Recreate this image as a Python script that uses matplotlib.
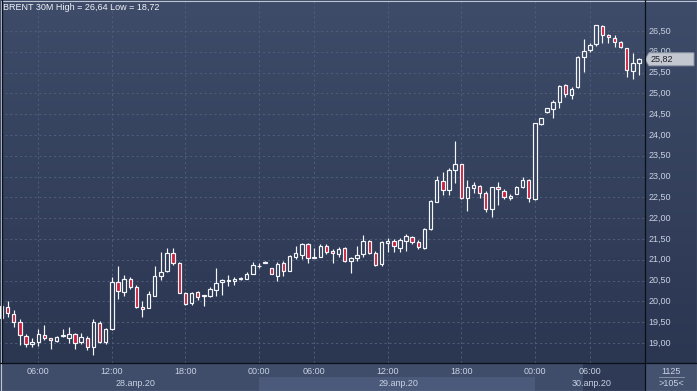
import numpy as np
import matplotlib
matplotlib.use('Agg')
import matplotlib.pyplot as plt
from matplotlib.patches import Rectangle, Polygon
from matplotlib.lines import Line2D
from matplotlib.colors import LinearSegmentedColormap, to_rgb

plt.rcParams['font.family'] = ['Liberation Sans', 'DejaVu Sans']

# ---------------- data ----------------
opens = [19.60, 19.87, 19.70, 19.50, 19.18, 18.97, 19.02, 19.20, 19.11, 19.06,
         19.17, 19.13, 19.21, 19.03, 19.11, 18.90, 19.47, 19.03, 19.34, 20.47,
         20.23, 20.53, 20.34, 19.86, 19.84, 20.13, 20.62, 20.72, 21.16, 20.92,
         20.21, 19.95, 20.22, 20.12, 20.13, 20.28, 20.46, 20.50, 20.50, 20.54,
         20.54, 20.66, 20.84, 20.93, 20.80, 20.61, 20.93, 20.73, 21.07, 21.12,
         21.38, 21.04, 21.07, 21.33, 21.21, 21.13, 21.28, 20.96, 21.04, 21.13,
         21.44, 21.16, 20.89, 21.40, 21.44, 21.28, 21.44, 21.54, 21.42, 21.28,
         21.73, 22.40, 22.89, 22.68, 23.17, 23.30, 22.49, 22.72, 22.78, 22.60,
         22.21, 22.74, 22.66, 22.49, 22.58, 22.74, 22.93, 22.46, 24.26, 24.55,
         24.63, 24.79, 25.19, 24.95, 25.15, 25.87, 26.04, 26.18, 26.62, 26.40,
         26.34, 26.23, 26.08, 25.54, 25.72]
highs = [19.95, 20.00, 19.79, 19.57, 19.22, 19.11, 19.34, 19.43, 19.13, 19.17,
         19.34, 19.38, 19.25, 19.23, 19.17, 19.57, 19.54, 19.37, 20.58, 20.85,
         20.63, 20.59, 20.39, 20.00, 20.26, 20.85, 21.18, 21.28, 21.28, 20.94,
         20.23, 20.23, 20.26, 20.16, 20.35, 20.80, 20.53, 20.63, 20.59, 20.59,
         20.71, 20.95, 20.93, 20.98, 20.81, 20.95, 20.97, 21.11, 21.32, 21.41,
         21.40, 21.28, 21.38, 21.37, 21.27, 21.31, 21.30, 21.06, 21.32, 21.60,
         21.48, 21.20, 21.45, 21.53, 21.50, 21.52, 21.63, 21.57, 21.48, 21.76,
         22.44, 23.01, 23.12, 23.21, 23.86, 23.31, 22.93, 22.88, 22.80, 22.65,
         22.76, 22.88, 22.71, 22.58, 22.78, 22.99, 22.95, 24.30, 24.42, 24.66,
         24.84, 25.20, 25.23, 25.15, 25.89, 26.30, 26.22, 26.64, 26.64, 26.43,
         26.40, 26.27, 26.10, 25.96, 25.85]
lows = [19.55, 19.63, 19.39, 18.95, 18.90, 18.91, 18.93, 19.07, 18.85, 19.03,
        19.14, 19.01, 18.85, 18.98, 18.83, 18.72, 18.99, 18.98, 19.31, 20.06,
        20.14, 20.29, 19.83, 19.62, 19.83, 20.12, 20.51, 20.71, 20.88, 20.20,
        19.92, 19.92, 20.03, 19.89, 20.11, 20.14, 20.15, 20.37, 20.39, 20.52,
        20.53, 20.66, 20.80, 20.92, 20.65, 20.50, 20.61, 20.73, 21.01, 21.02,
        20.92, 21.04, 21.07, 21.14, 20.92, 21.07, 20.95, 20.68, 20.96, 21.07,
        21.15, 20.85, 20.85, 21.19, 21.19, 21.19, 21.20, 21.38, 21.25, 21.26,
        21.72, 22.40, 22.56, 22.55, 22.84, 22.45, 22.18, 22.60, 22.48, 22.15,
        22.04, 22.32, 22.47, 22.43, 22.57, 22.72, 22.40, 22.44, 24.24, 24.54,
        24.40, 24.64, 24.91, 24.87, 25.13, 25.51, 25.99, 26.15, 26.20, 26.20,
        26.12, 26.08, 25.40, 25.34, 25.44]
closes = [19.88, 19.72, 19.50, 19.20, 18.97, 19.02, 19.22, 19.11, 19.07, 19.15,
          19.19, 19.21, 19.01, 19.14, 18.90, 19.51, 19.03, 19.34, 20.46, 20.24,
          20.55, 20.35, 19.86, 19.81, 20.18, 20.62, 20.71, 21.16, 20.92, 20.21,
          19.94, 20.21, 20.10, 20.15, 20.29, 20.44, 20.51, 20.51, 20.54, 20.55,
          20.66, 20.87, 20.86, 20.94, 20.66, 20.89, 20.73, 21.09, 21.16, 21.38,
          21.04, 21.07, 21.33, 21.19, 21.16, 21.25, 20.96, 21.04, 21.12, 21.46,
          21.17, 20.87, 21.42, 21.45, 21.32, 21.48, 21.58, 21.42, 21.30, 21.74,
          22.41, 22.92, 22.68, 23.16, 23.30, 22.48, 22.74, 22.79, 22.60, 22.21,
          22.74, 22.69, 22.50, 22.54, 22.74, 22.93, 22.48, 24.28, 24.40, 24.64,
          24.79, 25.18, 24.99, 25.11, 25.87, 26.03, 26.16, 26.64, 26.40, 26.35,
          26.23, 26.11, 25.56, 25.74, 25.82]

title_text = 'BRENT 30M High = 26,64 Low = 18,72'
price_ticks = [19.0, 19.5, 20.0, 20.5, 21.0, 21.5, 22.0, 22.5, 23.0, 23.5,
               24.0, 24.5, 25.0, 25.5, 26.0, 26.5]
price_labels = ['19,00', '19,50', '20,00', '20,50', '21,00', '21,50', '22,00',
                '22,50', '23,00', '23,50', '24,00', '24,50', '25,00', '25,50',
                '26,00', '26,50']
time_tick_pos = [6, 18, 30, 42, 51, 63, 75, 87, 96]
time_tick_labels = ['06:00', '12:00', '18:00', '00:00', '06:00', '12:00',
                    '18:00', '00:00', '06:00']
day_starts = [42, 87]
date_labels = ['28.апр.20', '29.апр.20', '30.апр.20']
date_label_pos = [21.8, 64.7, 96.3]
last_price = 25.82
last_label = '25,82'
volume_text = '1125'
bars_text = '>105<'

# ---------------- layout ----------------
W, H = 697, 391
fig = plt.figure(figsize=(W / 100, H / 100), dpi=100)
fig.patch.set_facecolor('#3f4d6b')

PLOT_R = 645   # px
PLOT_B = 363   # px from top
px_per_bar = 6.13
x0_px = 1.5
y_at_19 = 343.0
px_per_unit = 41.6

xlim = (-x0_px / px_per_bar, (PLOT_R - x0_px) / px_per_bar)
ylim = (19 - (PLOT_B - y_at_19) / px_per_unit, 19 + y_at_19 / px_per_unit)

BG_TOP = '#3e4c69'
BG_BOT = '#2b3651'
GRID = '#4f5d7a'
TXT = '#c9d1e2'
RED = '#c91f3d'
WHITE = '#f4f6fa'
FS = 6.5

cmap = LinearSegmentedColormap.from_list('bg', [BG_BOT, BG_TOP])

def bg_at(price):
    t = (price - ylim[0]) / (ylim[1] - ylim[0])
    a, b = np.array(to_rgb(BG_BOT)), np.array(to_rgb(BG_TOP))
    return tuple(a + (b - a) * t)

ax = fig.add_axes([0, (H - PLOT_B) / H, PLOT_R / W, PLOT_B / H])
ax_r = fig.add_axes([PLOT_R / W, (H - PLOT_B) / H, (W - PLOT_R) / W, PLOT_B / H])
ax_t = fig.add_axes([0, 0, 1, (H - PLOT_B) / H])

for a in (ax, ax_r):
    a.imshow(np.linspace(0, 1, 256).reshape(-1, 1)[::-1], cmap=cmap,
             extent=[0, 1, 0, 1], transform=a.transAxes, aspect='auto',
             zorder=0, interpolation='bilinear')
    a.set_axis_off()

ax.set_xlim(*xlim)
ax.set_ylim(*ylim)
ax_r.set_xlim(0, 1)
ax_r.set_ylim(*ylim)

# grid
for p in price_ticks:
    ax.axhline(p, color=GRID, lw=0.7, ls=(0, (2.2, 2.8)), zorder=1)
for t in time_tick_pos:
    ax.axvline(t, color=GRID, lw=0.7, ls=(0, (2.2, 2.8)), zorder=1)

# candles
bw = 0.56
lw = 0.85
for i, (o, h, l, c) in enumerate(zip(opens, highs, lows, closes)):
    top = max(o, c)
    bot = min(o, c)
    hgt = max(top - bot, 0.022)
    up = c >= o
    ax.vlines(i, top, h, color=WHITE, lw=lw, zorder=3)
    ax.vlines(i, l, bot, color=WHITE, lw=lw, zorder=3)
    fc = bg_at((top + bot) / 2) if up else RED
    ax.add_patch(Rectangle((i - bw / 2, bot), bw, hgt, facecolor=fc,
                           edgecolor=WHITE, lw=lw, zorder=4))

# right axis labels
for p, lab in zip(price_ticks, price_labels):
    ax_r.text(3.5 / 52, p, lab, color=TXT, fontsize=FS, va='center', ha='left', zorder=3)

# last price tag
hh = 6.5 / px_per_unit
tag = Polygon([(0.0, last_price), (4 / 52, last_price + hh), (49 / 52, last_price + hh),
               (49 / 52, last_price - hh), (4 / 52, last_price - hh)], closed=True,
              facecolor='#c3c7cf', edgecolor='#8e96a6', lw=0.7, zorder=5)
ax_r.add_patch(tag)
ax_r.text(6 / 52, last_price, last_label, color='#1c1f26', fontsize=FS,
          va='center', ha='left', zorder=6)

# title
ax.text(3 / PLOT_R, 1 - 2.5 / PLOT_B, title_text, transform=ax.transAxes,
        color='#f2f4f8', fontsize=FS, va='top', ha='left', zorder=6)

# ---------------- time axis bar ----------------
ax_t.set_xlim(0, W)
ax_t.set_ylim(H, PLOT_B)
ax_t.set_axis_off()
ax_t.add_patch(Rectangle((0, PLOT_B), W, H - PLOT_B, facecolor='#3f4d6b', zorder=0))

def bar_px(i):
    return x0_px + px_per_bar * i

ax_t.add_patch(Rectangle((bar_px(day_starts[0]), 377), bar_px(day_starts[1]) - bar_px(day_starts[0]),
                         H - 377, facecolor='#4b5a7a', lw=0, zorder=1))
ax_t.add_patch(Rectangle((583, PLOT_B + 1), PLOT_R - 583, H - PLOT_B - 1,
                         facecolor='#2e3a56', lw=0, zorder=2))
ax_t.add_patch(Rectangle((PLOT_R, PLOT_B), W - PLOT_R, H - PLOT_B,
                         facecolor='#44526f', lw=0, zorder=2))

for t, lab in zip(time_tick_pos, time_tick_labels):
    ax_t.text(bar_px(t), 371, lab, color=TXT, fontsize=FS, ha='center', va='center', zorder=4)
for t, lab in zip(date_label_pos, date_labels):
    ax_t.text(bar_px(t), 383, lab, color=TXT, fontsize=FS, ha='center', va='center', zorder=4)

ax_t.text(671, 371, volume_text, color=TXT, fontsize=FS, ha='center', va='center', zorder=4)
ax_t.plot([659, 684], [377, 377], color='#8f99ad', lw=0.6, zorder=4)
ax_t.text(671, 383, bars_text, color=TXT, fontsize=FS, ha='center', va='center', zorder=4)

# separator lines
fig.add_artist(Line2D([PLOT_R / W, PLOT_R / W], [0, 1], transform=fig.transFigure,
                      color='#0b0f18', lw=0.9))
fig.add_artist(Line2D([0, 1], [(H - PLOT_B) / H] * 2, transform=fig.transFigure,
                      color='#0b0f18', lw=0.9))
fig.add_artist(Line2D([1.5 / W, 1.5 / W], [(H - PLOT_B) / H, 1], transform=fig.transFigure,
                      color='#0b0f18', lw=0.9))
fig.add_artist(Rectangle((0.5 / W, 0.5 / H), 1 - 1 / W, 1 - 1 / H, transform=fig.transFigure,
                         facecolor='none', edgecolor='#bcc4d2', lw=0.8))

fig.savefig('out.png', dpi=100)
